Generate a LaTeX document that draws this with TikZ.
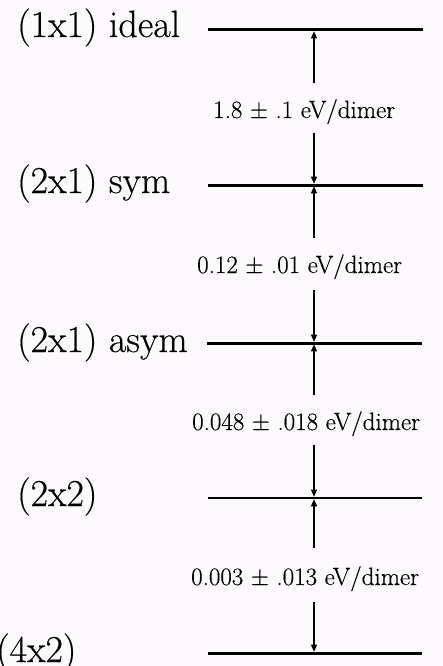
\documentclass[tikz,border=0pt]{standalone}
\usepackage{fontspec}
\setmainfont{Latin Modern Roman}[FakeBold=0.4]
\usetikzlibrary{arrows.meta}
\definecolor{bgc}{RGB}{253,250,253}
\tikzset{
  level/.style={line width=3pt},
  gap/.style={line width=1.1pt,-{Triangle[length=7pt,width=6pt]},shorten >=1.3pt},
  state/.style={anchor=base west,inner sep=0pt,font=\fontsize{38}{40}\selectfont},
  energy/.style={anchor=base west,inner sep=0pt,font=\fontsize{25}{27}\selectfont}
}
\begin{document}
\begin{tikzpicture}[x=1pt,y=-1pt]
\useasboundingbox (0,0) rectangle (443,666);
\clip (0,0) rectangle (443,666);
\fill[bgc] (0,0) rectangle (443,666);
% level lines
\coordinate (L1a) at (208,30);  \coordinate (L1b) at (423,30);  \coordinate (L1) at (314,30);
\coordinate (L2a) at (208,185); \coordinate (L2b) at (423,185); \coordinate (L2) at (314,185);
\coordinate (L3a) at (207,343); \coordinate (L3b) at (422,343); \coordinate (L3) at (314,343);
\coordinate (L4a) at (208,498); \coordinate (L4b) at (422,498); \coordinate (L4) at (314,498);
\coordinate (L5a) at (208,653); \coordinate (L5b) at (422,653); \coordinate (L5) at (314,653);
\draw[level] (L1a) -- (L1b);
\draw[level] (L2a) -- (L2b);
\draw[level] (L3a) -- (L3b);
\draw[level,line width=2.4pt] (L4a) -- (L4b);
\draw[level] (L5a) -- (L5b);
% state labels
\node[state] (s1) at (17,37) {(1x1) ideal};
\node[state] (s2) at (17,193) {(2x1) sym};
\node[state] (s3) at (17,352) {(2x1) asym};
\node[state] (s4) at (17,506) {(2x2)};
\node[state] (s5) at (-4,662) {(4x2)};
% energy labels
\node[energy] (e1) at (213,118) {1.8 ± .1 eV/dimer};
\node[energy] (e2) at (197,273) {0.12 ± .01 eV/dimer};
\node[energy] (e3) at (192,430) {0.048 ± .018 eV/dimer};
\node[energy] (e4) at (191,585) {0.003 ± .013 eV/dimer};
% arrow ends
\coordinate (a1) at (314,83);
\coordinate (a2) at (314,133);
\coordinate (a3) at (314,238);
\coordinate (a4) at (314,290);
\coordinate (a5) at (314,395);
\coordinate (a6) at (314,445);
\coordinate (a7) at (314,548);
\coordinate (a8) at (314,602);
\draw[gap] (a1) -- (L1);
\draw[gap] (a2) -- (L2);
\draw[gap] (a3) -- (L2);
\draw[gap] (a4) -- (L3);
\draw[gap] (a5) -- (L3);
\draw[gap] (a6) -- (L4);
\draw[gap] (a7) -- (L4);
\draw[gap] (a8) -- (L5);
\end{tikzpicture}
\end{document}
